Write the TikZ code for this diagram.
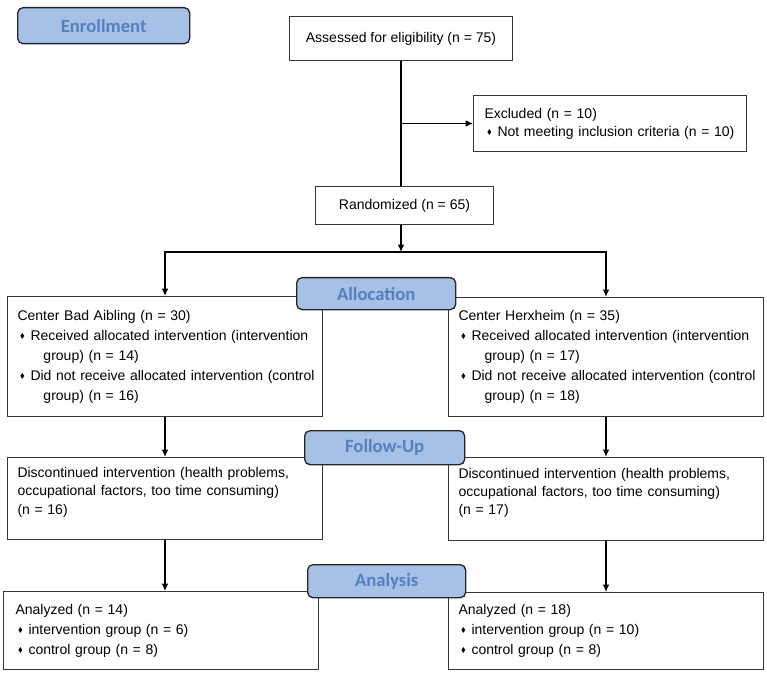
\documentclass[tikz,border=0pt]{standalone}
\usepackage{fontspec}
\usepackage{amssymb}
\setmainfont{Liberation Sans}
\newfontfamily\stagefont{Carlito}
\usetikzlibrary{arrows.meta}

\definecolor{stagefill}{RGB}{167,192,230}
\definecolor{stagetext}{RGB}{84,128,192}
\definecolor{boxline}{RGB}{55,55,55}

\newcommand{\dia}{\makebox[9.75pt][l]{\hspace*{2pt}\raisebox{0.25ex}{\scalebox{0.5}{$\blacklozenge$}}}}

\tikzset{every picture/.style={line width=0.75pt}}
\tikzset{
  box/.style={draw=boxline, anchor=north west, align=left, inner xsep=7.5pt, inner ysep=2pt, font=\fontsize{10.5}{15}\selectfont},
  stage/.style={draw=black!85, fill=stagefill, rounded corners=4pt, line width=1pt, anchor=north west, inner sep=0pt, text=stagetext, font=\stagefont\bfseries\fontsize{14}{16}\selectfont},
  flow/.style={line width=1pt, -{Latex[length=5.5pt,width=5pt]}}
}

\begin{document}
\begin{tikzpicture}[x=0.75pt,y=0.75pt,yscale=-1,xscale=1]
\useasboundingbox (0,0) rectangle (767,677);

%Shape: Rectangle [enrollment part]
\node[box, minimum width=167.25pt, minimum height=33pt] (assess) at (289,16) {Assessed for eligibility (n = 75)};
\node[box, text width=188.25pt, inner xsep=8.25pt, minimum height=42pt, font=\fontsize{10.5}{13.5}\selectfont] (excl) at (473,95) {Excluded (n = 10)\\\dia Not meeting inclusion criteria (n = 10)};
\node[box, minimum width=133.5pt, minimum height=28.5pt] (rand) at (315,186) {Randomized (n = 65)};

%Shape: Rectangle [allocation part]
\node[box, text width=221.25pt, minimum height=90pt] (allocL) at (7,296) {Center Bad Aibling (n = 30)\\\dia\mbox{Received allocated intervention (intervention}\\\hspace*{19.5pt}group) (n = 14)\\\dia\mbox{Did not receive allocated intervention (control}\\\hspace*{19.5pt}group) (n = 16)};
\node[box, text width=221.25pt, minimum height=89.25pt] (allocR) at (448,297) {Center Herxheim (n = 35)\\\dia\mbox{Received allocated intervention (intervention}\\\hspace*{19.5pt}group) (n = 17)\\\dia\mbox{Did not receive allocated intervention (control}\\\hspace*{19.5pt}group) (n = 18)};

%Shape: Rectangle [follow-up part]
\node[box, text width=221.25pt, minimum height=61.5pt, text depth=39pt, font=\fontsize{10.5}{13.75}\selectfont] (fuL) at (7,457) {Discontinued intervention (health problems,\\occupational factors, too time consuming)\\(n = 16)};
\node[box, text width=221.25pt, minimum height=62.25pt, text depth=39pt, font=\fontsize{10.5}{13.75}\selectfont] (fuR) at (448,457) {Discontinued intervention (health problems,\\occupational factors, too time consuming)\\(n = 17)};

%Shape: Rectangle [analysis part]
\node[box, text width=218.25pt, inner xsep=9pt, minimum height=58.5pt] (anL) at (3,591) {Analyzed (n = 14)\\\dia intervention group (n = 6)\\\dia control group (n = 8)};
\node[box, text width=221.25pt, minimum height=57.75pt] (anR) at (448,592) {Analyzed (n = 18)\\\dia intervention group (n = 10)\\\dia control group (n = 8)};

%Straight Lines
\coordinate (split) at (401,252);
\draw[line width=1pt] (assess.south) -- (assess.south |- rand.north);
\draw[flow] (assess.south |- excl.west) -- (excl.west);
\draw[flow] (rand.south -| split) -- (split);
\draw[flow] (split) -| (allocL.north);
\draw[flow] (split) -| (allocR.north);
\draw[flow] (allocL.south) -- (fuL.north);
\draw[flow] (allocR.south) -- (fuR.north);
\draw[flow] (fuL.south) -- (fuL.south |- anL.north);
\draw[flow] (fuR.south) -- (fuR.south |- anR.north);

% Stage labels
\node[stage, minimum width=129pt, minimum height=27pt] (enroll) at (17,7) {Enrollment};
\node[stage, minimum width=119.25pt, minimum height=24pt] (alloc) at (296,277) {Allocation};
\node[stage, minimum width=120pt, minimum height=25.5pt] (follow) at (304,430) {Follow-Up};
\node[stage, minimum width=118.5pt, minimum height=24.75pt] (analysis) at (307,564) {Analysis};

\end{tikzpicture}
\end{document}
